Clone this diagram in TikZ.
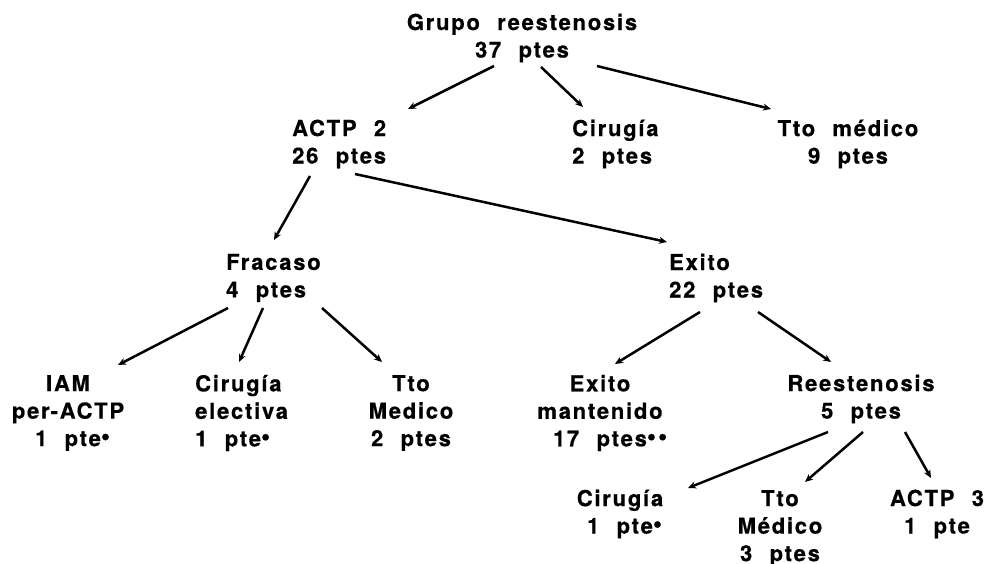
\documentclass[tikz,border=0pt]{standalone}
\usepackage{fontspec}
\setmainfont{TeX Gyre Heros}[LetterSpace=8,WordSpace=2.2,BoldFeatures={FakeBold=0.6}]
\usetikzlibrary{arrows.meta}
\newcommand{\bul}{\rlap{\fontsize{26}{26}\selectfont\raisebox{0.05em}{•}}}
\newcommand{\bulbul}{\rlap{\fontsize{26}{26}\selectfont\raisebox{0.05em}{••}}}
\tikzset{
  lbl/.style={font=\fontsize{22}{27.5}\selectfont\bfseries, inner sep=0pt, align=center},
  lbll/.style={lbl, align=left, anchor=west},
  arr/.style={line width=2.5pt, -{Stealth[length=8pt,width=7pt]}}
}
\begin{document}
\begin{tikzpicture}[x=1pt,y=-1pt]
\useasboundingbox[fill=white] (0,0) rectangle (989,564);
\node[lbl] (root) at (522,38) {Grupo reestenosis\\37 ptes};
\node[lbll] (actp2) at (292,144) {ACTP 2\\26 ptes};
\node[lbll] (cir1) at (572,144) {Cirugía\\2 ptes};
\node[lbl] (tto1) at (848,144) {Tto médico\\9 ptes};
\node[lbll] (fracaso) at (226,278) {Fracaso\\4 ptes};
\node[lbll] (exito) at (669,278) {Exito\\22 ptes};
\node[lbl] (iam) at (68,413) {IAM\\per-ACTP\\1 pte\bul};
\node[lbll] (cirel) at (195,413) {Cirugía\\electiva\\1 pte\bul};
\node[lbl] (tto2) at (411,413) {Tto\\Medico\\2 ptes};
\node[lbl] (exman) at (600,413) {Exito\\mantenido\\17 ptes\bulbul};
\node[lbl] (reest) at (861,399) {Reestenosis\\5 ptes};
\node[lbl] (cir2) at (620,514) {Cirugía\\1 pte\bul};
\node[lbl] (tto3) at (780,528) {Tto\\Médico\\3 ptes};
\node[lbl] (actp3) at (937,514) {ACTP 3\\1 pte};

\draw[arr] ([shift={(-28,28)}]root.center) -- ([shift={(116,-35)}]actp2.west);
\draw[arr] ([shift={(19,29)}]root.center) -- ([shift={(11,-37)}]cir1.west);
\draw[arr] ([shift={(75,28)}]root.center) -- ([shift={(-77,-35)}]tto1.center);
\draw[arr] ([shift={(18,32)}]actp2.west) -- ([shift={(48,-38)}]fracaso.west);
\draw[arr] ([shift={(63,30)}]actp2.west) -- ([shift={(-2,-36)}]exito.west);
\draw[arr] ([shift={(2,30)}]fracaso.west) -- ([shift={(50,-48)}]iam.center);
\draw[arr] ([shift={(37,30)}]fracaso.west) -- ([shift={(44,-51)}]cirel.west);
\draw[arr] ([shift={(96,30)}]fracaso.west) -- ([shift={(-29,-51)}]tto2.center);
\draw[arr] ([shift={(31,34)}]exito.west) -- ([shift={(15,-49)}]exman.center);
\draw[arr] ([shift={(89,34)}]exito.west) -- ([shift={(-30,-37)}]reest.center);
\draw[arr] ([shift={(-33,33)}]reest.center) -- ([shift={(68,-26)}]cir2.center);
\draw[arr] ([shift={(2,33)}]reest.center) -- ([shift={(25,-46)}]tto3.center);
\draw[arr] ([shift={(44,33)}]reest.center) -- ([shift={(-6,-36)}]actp3.center);
\end{tikzpicture}
\end{document}
